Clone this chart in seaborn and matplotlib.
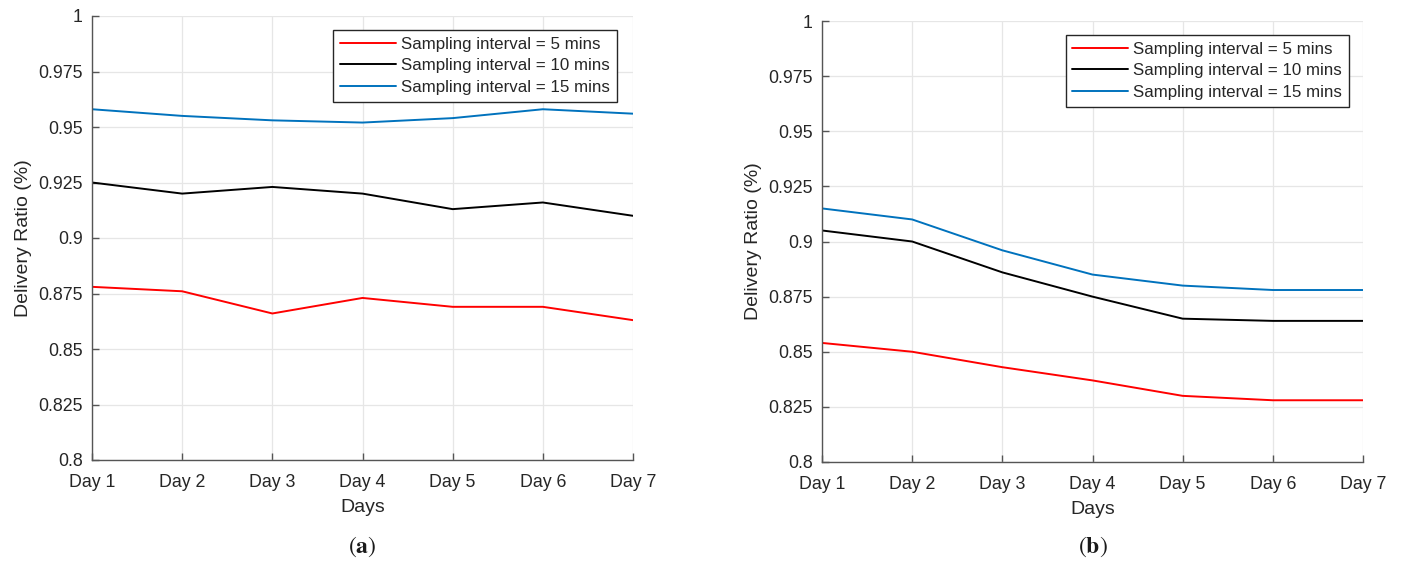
import matplotlib
matplotlib.use("Agg")
import matplotlib.pyplot as plt
import seaborn as sns
import pandas as pd

days = ["Day 1", "Day 2", "Day 3", "Day 4", "Day 5", "Day 6", "Day 7"]
series_names = ["Sampling interval = 5 mins", "Sampling interval = 10 mins", "Sampling interval = 15 mins"]

a_5 = [0.878, 0.876, 0.866, 0.873, 0.869, 0.869, 0.863]
a_10 = [0.925, 0.920, 0.923, 0.920, 0.913, 0.916, 0.910]
a_15 = [0.958, 0.955, 0.953, 0.952, 0.954, 0.958, 0.956]

b_5 = [0.854, 0.850, 0.843, 0.837, 0.830, 0.828, 0.828]
b_10 = [0.905, 0.900, 0.886, 0.875, 0.865, 0.864, 0.864]
b_15 = [0.915, 0.910, 0.896, 0.885, 0.880, 0.878, 0.878]

y_ticks = [0.8, 0.825, 0.85, 0.875, 0.9, 0.925, 0.95, 0.975, 1.0]
y_tick_labels = ["0.8", "0.825", "0.85", "0.875", "0.9", "0.925", "0.95", "0.975", "1"]
captions = ["a", "b"]

colors = ["#FF0000", "#000000", "#0072BD"]

sns.set_theme(style="whitegrid")
plt.rcParams["font.family"] = ["Liberation Sans", "DejaVu Sans"]
plt.rcParams["mathtext.fontset"] = "stix"

fig = plt.figure(figsize=(14.03, 5.61), dpi=100)
# axes rectangles in figure fraction (pixel-measured)
ax_a = fig.add_axes([92 / 1403, (561 - 460) / 561, 541 / 1403, 444 / 561])
ax_b = fig.add_axes([822 / 1403, (561 - 462) / 561, 541 / 1403, 441 / 561])


def make_df(v5, v10, v15):
    rows = []
    for name, vals in zip(series_names, [v5, v10, v15]):
        for i, v in enumerate(vals):
            rows.append({"x": i, "Day": days[i], "value": v, "series": name})
    return pd.DataFrame(rows)


for ax, data, cap, legpos in [
    (ax_a, (a_5, a_10, a_15), captions[0], (0.970, 0.968)),
    (ax_b, (b_5, b_10, b_15), captions[1], (0.974, 0.968)),
]:
    df = make_df(*data)
    sns.lineplot(data=df, x="x", y="value", hue="series", hue_order=series_names,
                 palette=colors, linewidth=1.4, ax=ax, legend=True)
    ax.set_xlim(0, 6)
    ax.set_ylim(0.8, 1.0)
    ax.set_xticks(range(7))
    ax.set_xticklabels(days)
    ax.set_yticks(y_ticks)
    ax.set_yticklabels(y_tick_labels)
    ax.set_xlabel("Days", fontsize=14, color="#262626")
    ax.set_ylabel("Delivery Ratio (%)", fontsize=14, color="#262626")
    ax.xaxis.set_label_coords(0.5, -0.088)
    ax.yaxis.set_label_coords(-0.111, 0.5)
    ax.set_facecolor("white")
    ax.grid(True, color="#e6e6e6", linewidth=0.9)
    for side in ["top", "right"]:
        ax.spines[side].set_visible(False)
    for side in ["left", "bottom"]:
        ax.spines[side].set_visible(True)
        ax.spines[side].set_color("#555555")
        ax.spines[side].set_linewidth(1.0)
    ax.tick_params(axis="both", which="both", direction="in", length=5, width=1.0,
                   color="#555555", labelsize=12.8, labelcolor="#262626",
                   bottom=True, left=True)
    ax.tick_params(axis="x", pad=10)
    ax.tick_params(axis="y", pad=6.5)
    leg = ax.legend(loc="upper right", bbox_to_anchor=legpos, fontsize=12.2,
                    frameon=True, fancybox=False, edgecolor="#262626",
                    handlelength=3.3, handletextpad=0.3, borderpad=0.4,
                    labelspacing=0.38, borderaxespad=0)
    leg.get_frame().set_linewidth(1.0)
    leg.get_frame().set_facecolor("white")
    leg.get_frame().set_alpha(1.0)
    for line in leg.get_lines():
        line.set_linewidth(1.4)

# captions "(a)" and "(b)" centred under each panel
for ax, cap in [(ax_a, captions[0]), (ax_b, captions[1])]:
    pos = ax.get_position()
    fig.text((pos.x0 + pos.x1) / 2, (561 - 547) / 561, r"$(\mathbf{" + cap + r"})$",
             ha="center", va="center", fontsize=17, color="#1a1a1a")

fig.savefig("out.png", dpi=100)
